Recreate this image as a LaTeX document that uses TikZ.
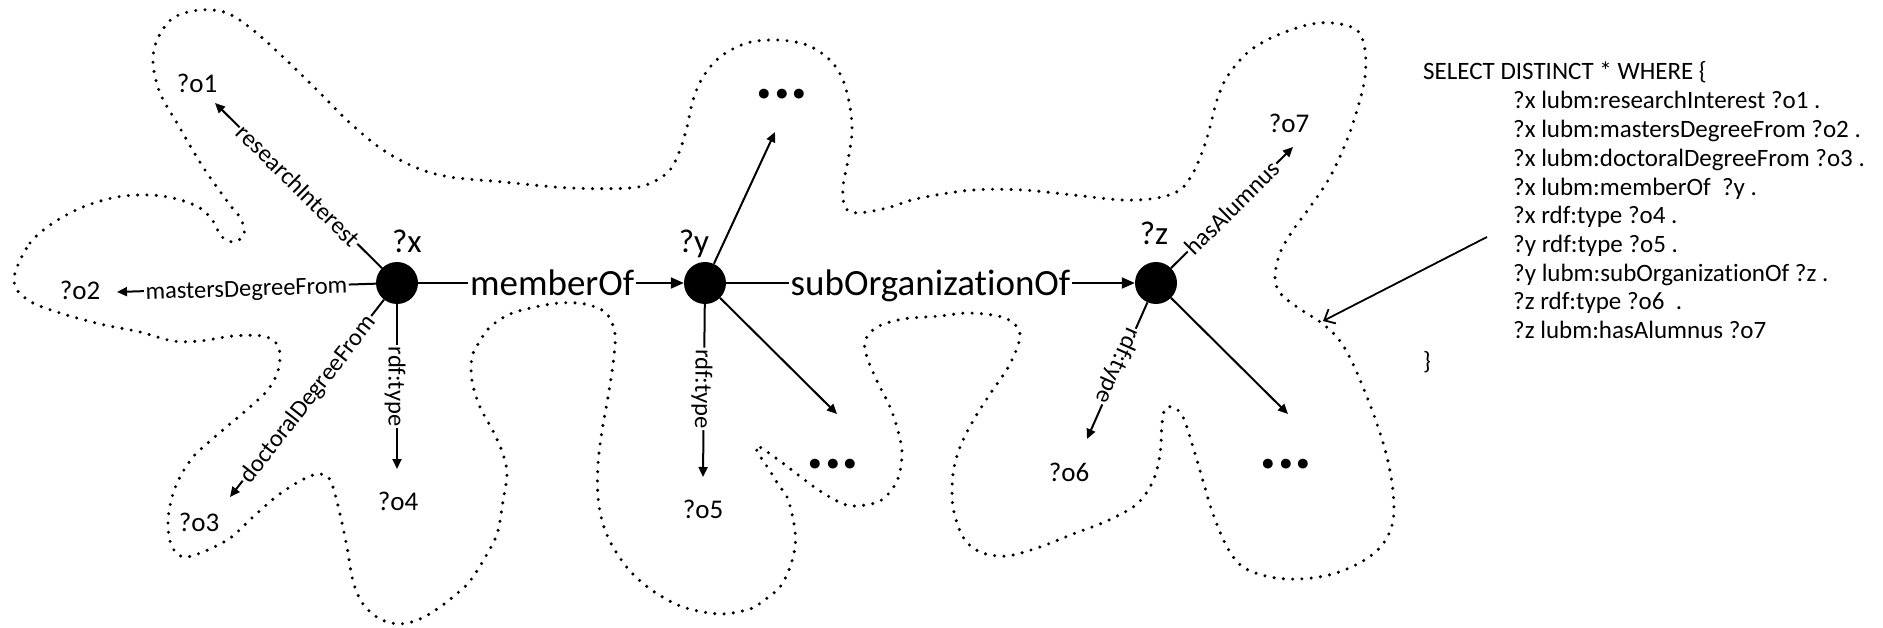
\documentclass[tikz,border=0pt]{standalone}
\usepackage{fontspec}
\setmainfont{Carlito}[Ligatures={NoCommon,NoContextual}]
\usetikzlibrary{arrows.meta}
\begin{document}
\begin{tikzpicture}[x=1pt,y=-1pt,
 vnode/.style={circle, fill=black, minimum size=42pt, inner sep=0pt},
 vlab/.style={font=\fontsize{33}{36}\selectfont, anchor=base, inner sep=0pt},
 olab/.style={font=\fontsize{27}{30}\selectfont, anchor=base, inner sep=0pt},
 edge/.style={line width=2pt, -{Triangle[length=10pt,width=9pt]}},
 bigedge/.style={line width=2pt, -{Triangle[length=13pt,width=11pt]}},
 lab/.style={font=\fontsize{24.5}{26}\selectfont, sloped, fill=white, inner sep=1.5pt, text height=17pt, text depth=0pt},
 biglab/.style={font=\fontsize{37}{40}\selectfont, fill=white, inner sep=2pt, text height=25pt, text depth=0pt},
 dotsnode/.style={font=\bfseries\fontsize{66}{68}\selectfont, anchor=base, inner sep=0pt},
 blob/.style={line width=3.4pt, dash pattern=on 0pt off 9.3pt, line cap=round},
 pointer/.style={line width=1.8pt, -{Straight Barb[length=9pt,width=16pt]}},
 qline/.style={font=\fontsize{25}{28}\selectfont, anchor=base west, inner sep=0pt}
]
\useasboundingbox (0,0) rectangle (1883,628);

% dotted outline
\draw[blob] plot[smooth cycle, tension=0.55] coordinates {
(15,273) (30,243) (53,223) (83,207) (117,197) (150,195) (177,199) (200,208) (213,221) (221,236) (233,242) (244,235) (241,219) (230,205) (203,167) (177,123) (160,93) (153,63) (157,40) (173,18) (200,10) (227,13) (253,30) (283,57) (317,90) (350,123) (383,150) (417,168) (450,177) (503,182) (570,188) (630,188) (653,182) (670,170) (680,150) (687,127) (693,100) (703,77) (720,57) (747,43) (777,40) (807,45) (830,60) (843,80) (850,107) (852,133) (848,160) (843,187) (845,207) (857,213) (887,208) (920,198) (973,190) (1023,190) (1073,195) (1123,200) (1157,198) (1180,190) (1193,173) (1203,150) (1210,127) (1217,100) (1227,77) (1247,53) (1273,37) (1307,25) (1333,23) (1357,30) (1365,50) (1365,77) (1358,107) (1347,140) (1330,177) (1310,207) (1293,230) (1280,253) (1275,277) (1280,293) (1297,307) (1323,324) (1340,341) (1353,364) (1367,397) (1377,424) (1387,457) (1393,491) (1393,521) (1383,544) (1363,561) (1333,574) (1300,579) (1270,577) (1243,567) (1227,547) (1213,514) (1203,481) (1193,447) (1183,417) (1173,407) (1165,409) (1162,424) (1160,454) (1153,481) (1137,504) (1107,521) (1073,534) (1040,547) (1007,556) (980,552) (963,537) (953,507) (953,474) (960,447) (973,421) (990,394) (1010,364) (1020,334) (1005,318) (970,313) (940,316) (903,319) (877,327) (865,341) (867,357) (877,381) (890,407) (898,431) (902,454) (897,481) (880,501) (853,506) (837,501) (817,489) (797,474) (780,461) (763,449) (756,446) (758,453) (764,462) (770,471) (778,484) (787,497) (792,514) (795,531) (795,547) (790,567) (780,587) (763,601) (750,609) (720,614) (683,607) (653,591) (630,571) (613,547) (603,524) (598,497) (598,464) (602,431) (608,397) (613,364) (615,334) (606,313) (585,304) (560,303) (535,307) (510,314) (490,327) (480,341) (472,357) (472,381) (480,407) (493,431) (503,454) (507,474) (503,501) (497,534) (483,561) (470,581) (460,591) (440,607) (420,619) (400,624) (380,619) (363,604) (353,581) (347,547) (340,514) (333,487) (328,477) (317,474) (300,481) (277,496) (253,517) (233,536) (220,544) (203,552) (187,557) (177,554) (170,541) (168,521) (172,497) (180,477) (193,457) (210,441) (230,424) (250,407) (267,391) (277,374) (280,357) (277,344) (263,336) (233,336) (200,341) (173,341) (140,332) (100,324) (60,313) (33,303) (17,290)};

% vertices
\node[vnode] (x) at (397,283) {};
\node[vnode] (y) at (705,283) {};
\node[vnode] (z) at (1156,283) {};
\node[vlab] (xl) at (407,253) {?x};
\node[vlab] (yl) at (694,253) {?y};
\node[vlab] (zl) at (1154,245) {?z};

% object labels
\node[olab] (o1) at (197,93) {?o1};
\node[olab] (o2) at (80,300) {?o2};
\node[olab] (o3) at (199,531) {?o3};
\node[olab] (o4) at (398,510) {?o4};
\node[olab] (o5) at (703,518) {?o5};
\node[olab] (o6) at (1069,481) {?o6};
\node[olab] (o7) at (1289,133) {?o7};
\node[dotsnode] (d1) at (782,99) {...};
\node[dotsnode] (d2) at (833,468) {...};
\node[dotsnode] (d3) at (1286,468) {...};

% arrow tips
\coordinate (t1) at (215,103);
\coordinate (t2) at (117,292);
\coordinate (t3) at (230,497);
\coordinate (t4) at (397,469);
\coordinate (t5) at (775,132);
\coordinate (t6) at (703,477);
\coordinate (t7) at (837,414);
\coordinate (t8) at (1293,147);
\coordinate (t9) at (1087,439);
\coordinate (t10) at (1288,414);

% edges
\draw[edge] (x) -- node[lab,pos=0.5]{researchInterest} (t1);
\draw[edge] (x) -- node[lab,pos=0.5]{mastersDegreeFrom} (t2);
\draw[edge] (x) -- node[lab,pos=0.5]{doctoralDegreeFrom} (t3);
\draw[edge] (x) -- node[lab,pos=0.5,allow upside down]{rdf:type} (t4);
\draw[bigedge] (x) -- node[biglab,pos=0.504]{memberOf} (y);
\draw[edge] (y) -- (t5);
\draw[edge] (y) -- node[lab,pos=0.49,allow upside down]{rdf:type} (t6);
\draw[edge] (y) -- (t7);
\draw[bigedge] (y) -- node[biglab,pos=0.5]{subOrganizationOf} (z);
\draw[edge] (z) -- node[lab,pos=0.5]{hasAlumnus} (t8);
\draw[edge] (z) -- node[lab,pos=0.47,allow upside down]{rdf:type} (t9);
\draw[edge] (z) -- (t10);

% query
\node[qline] (q0) at (1423,80) {SELECT DISTINCT * WHERE \{};
\node[qline] (q1) at (1513,109) {?x lubm:researchInterest ?o1 .};
\node[qline] (q2) at (1513,138) {?x lubm:mastersDegreeFrom ?o2 .};
\node[qline] (q3) at (1513,167) {?x lubm:doctoralDegreeFrom ?o3 .};
\node[qline] (q4) at (1513,196) {?x lubm:memberOf\ \ ?y .};
\node[qline] (q5) at (1513,224) {?x rdf:type ?o4 .};
\node[qline] (q6) at (1513,253) {?y rdf:type ?o5 .};
\node[qline] (q7) at (1513,282) {?y lubm:subOrganizationOf ?z .};
\node[qline] (q8) at (1513,310) {?z rdf:type ?o6\ \ .};
\node[qline] (q9) at (1513,339) {?z lubm:hasAlumnus ?o7};
\node[qline] (q10) at (1423,370) {\}};

% pointer
\coordinate (p1) at (1487,237);
\coordinate (p2) at (1323,321);
\draw[pointer] (p1) -- (p2);
\end{tikzpicture}
\end{document}
